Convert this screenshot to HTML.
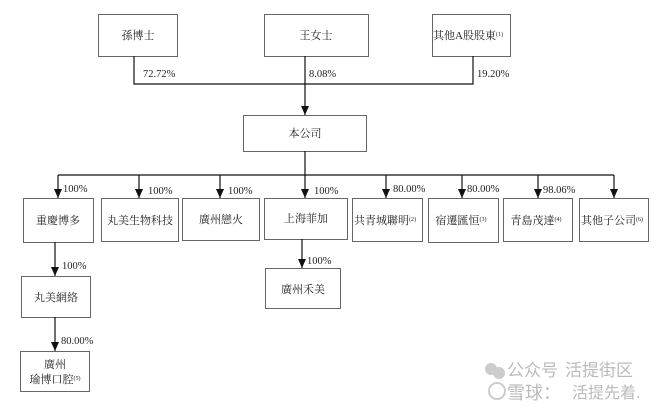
<!DOCTYPE html>
<html><head><meta charset="utf-8"><style>
html,body{margin:0;padding:0;background:#fff;}
svg{display:block;font-family:"Liberation Serif","Noto Serif CJK SC",serif;}
</style></head><body>
<svg width="658" height="409" viewBox="0 0 658 409" xmlns="http://www.w3.org/2000/svg">
<defs><marker id="a" markerWidth="8" markerHeight="9" refX="4" refY="9" orient="0" markerUnits="userSpaceOnUse"><path d="M0,0 L8,0 L4,9 z" fill="#111"/></marker></defs>
<g fill="#fff" stroke="#666" stroke-width="1">
<rect x="98.5" y="14.5" width="79" height="42"/>
<rect x="264.5" y="14.5" width="104" height="42"/>
<rect x="432.5" y="14.5" width="78" height="42"/>
<rect x="243.5" y="115.5" width="123" height="36"/>
<rect x="23.5" y="198.5" width="70" height="44"/>
<rect x="101.5" y="198.5" width="77" height="43"/>
<rect x="182.5" y="198.5" width="77" height="42"/>
<rect x="264.5" y="198.5" width="83" height="41"/>
<rect x="352.5" y="198.5" width="70" height="43"/>
<rect x="428.5" y="198.5" width="70" height="44"/>
<rect x="503.5" y="198.5" width="69" height="43"/>
<rect x="579.5" y="198.5" width="69" height="43"/>
<rect x="21.5" y="276.5" width="69" height="41"/>
<rect x="20.5" y="351.5" width="69" height="40"/>
<rect x="265.5" y="268.5" width="75" height="40"/>
</g>
<g stroke="#111" stroke-width="1.2" fill="none">
<path d="M134,56 V84 H473 V56"/>
<path d="M305,56 V115" marker-end="url(#a)"/>
<path d="M305,151 V175 M58,175 H614"/>
<path d="M58,175 V198" marker-end="url(#a)"/>
<path d="M139,175 V198" marker-end="url(#a)"/>
<path d="M220,175 V198" marker-end="url(#a)"/>
<path d="M305,175 V198" marker-end="url(#a)"/>
<path d="M386,175 V198" marker-end="url(#a)"/>
<path d="M462,175 V198" marker-end="url(#a)"/>
<path d="M538,175 V198" marker-end="url(#a)"/>
<path d="M614,175 V198" marker-end="url(#a)"/>
<path d="M55,242 V276" marker-end="url(#a)"/>
<path d="M55,317 V351" marker-end="url(#a)"/>
<path d="M302,239 V268" marker-end="url(#a)"/>
</g>
<g font-size="11" fill="#222">
<text x="138" y="39" text-anchor="middle">孫博士</text>
<text x="316" y="39" text-anchor="middle">王女士</text>
<text x="468" y="39" text-anchor="middle">其他A股股東<tspan font-size="6" dy="-3">(1)</tspan></text>
<text x="305" y="137" text-anchor="middle">本公司</text>
<text x="58" y="224" text-anchor="middle">重慶博多</text>
<text x="140" y="224" text-anchor="middle">丸美生物科技</text>
<text x="221" y="223" text-anchor="middle">廣州戀火</text>
<text x="306" y="222" text-anchor="middle">上海菲加</text>
<text x="385" y="224" text-anchor="middle">共青城聯明<tspan font-size="6" dy="-3">(2)</tspan></text>
<text x="461" y="224" text-anchor="middle">宿遷匯恒<tspan font-size="6" dy="-3">(3)</tspan></text>
<text x="536" y="224" text-anchor="middle">青島茂達<tspan font-size="6" dy="-3">(4)</tspan></text>
<text x="612" y="224" text-anchor="middle">其他子公司<tspan font-size="6" dy="-3">(6)</tspan></text>
<text x="56" y="301" text-anchor="middle">丸美網絡</text>
<text x="55" y="368" text-anchor="middle">廣州</text>
<text x="55" y="383" text-anchor="middle">瑜博口腔<tspan font-size="6" dy="-3">(5)</tspan></text>
<text x="303" y="293" text-anchor="middle">廣州禾美</text>
</g>
<g font-size="10.5" fill="#222">
<text x="143" y="77">72.72%</text>
<text x="309" y="77">8.08%</text>
<text x="477" y="77">19.20%</text>
<text x="63" y="192">100%</text>
<text x="148" y="194">100%</text>
<text x="228" y="194">100%</text>
<text x="314" y="194">100%</text>
<text x="393" y="192">80.00%</text>
<text x="467" y="192">80.00%</text>
<text x="543" y="193">98.06%</text>
<text x="62" y="269">100%</text>
<text x="307" y="264">100%</text>
<text x="61" y="344">80.00%</text>
</g>
<g fill="#bbb" font-family="Liberation Sans,'Noto Sans CJK SC',sans-serif">
<circle cx="491" cy="369" r="6" fill="#ccc"/><circle cx="499" cy="373" r="6" fill="#ccc"/>
<text x="507" y="376" font-size="17">公众号</text>
<text x="565" y="376" font-size="17">活提街区</text>
<circle cx="497" cy="391" r="8" fill="none" stroke="#ccc" stroke-width="2"/>
<text x="507" y="399" font-size="18">雪球：</text>
<text x="572" y="398" font-size="16">活提先着.</text>
</g>
</svg>
</body></html>
